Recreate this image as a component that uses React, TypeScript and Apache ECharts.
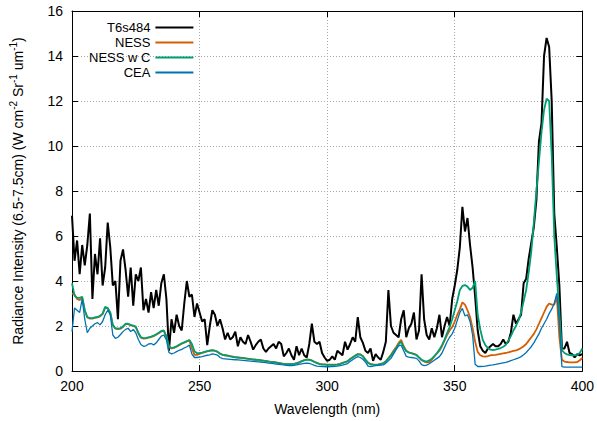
import { useEffect, useRef } from "react";
import * as echarts from "echarts";

// Wavelength sampling (nm): first sample and spacing
const wavelengthStart = 200;
const wavelengthStep = 1;

const xTicks = [200, 250, 300, 350, 400];
const yTicks = [0, 2, 4, 6, 8, 10, 12, 14, 16];

const seriesNames = ["T6s484", "NESS", "NESS w C", "CEA"];

// T6s484 (measured), 200..400 nm
const t6s484 = [
  6.9, 4.9, 5.8, 4.3, 5.6, 4.7, 5.6, 7.0, 3.2, 5.2,
  4.3, 5.9, 3.8, 4.6, 6.6, 5.5, 3.8, 4.0, 2.3, 4.9,
  5.4, 4.5, 3.3, 4.6, 2.9, 4.3, 4.0, 4.6, 2.7, 3.2,
  2.6, 3.5, 2.8, 3.6, 2.9, 3.9, 4.3, 3.2, 0.9, 2.3,
  1.7, 2.5, 2.0, 1.8, 3.0, 4.0, 3.3, 3.4, 2.4, 3.0,
  2.6, 2.2, 2.3, 1.15, 2.0, 2.7, 2.5, 2.0, 2.3, 1.9,
  1.4, 1.7, 1.4, 1.5, 1.75, 1.1, 1.5, 1.3, 1.2, 1.6,
  1.3, 0.95, 1.15, 1.3, 1.4, 1.0, 0.85, 1.0, 1.1, 1.2,
  1.0, 1.3, 1.2, 0.65, 0.8, 1.0, 0.7, 0.5, 1.1, 0.7,
  1.0, 0.7, 0.6, 1.2, 2.1, 1.3, 1.2, 1.3, 0.8, 0.6,
  0.45, 0.5, 0.65, 0.5, 0.9, 0.8, 0.7, 1.3, 0.95, 1.2,
  1.5, 1.3, 2.4, 1.5, 1.25, 0.9, 0.8, 1.0, 0.45, 0.75,
  0.6, 0.5, 0.85, 1.3, 3.6, 2.0, 1.7, 1.6, 1.5, 2.3,
  2.7, 1.5, 1.9, 2.1, 2.6, 1.4, 1.8, 4.3, 2.3, 1.6,
  1.4, 1.9, 1.5, 1.9, 2.5, 1.5, 2.0, 2.4, 2.0, 3.2,
  3.8, 4.5, 5.5, 7.3, 6.2, 6.8, 5.6, 4.6, 3.3, 1.8,
  1.1, 0.9, 0.8, 1.0, 1.1, 1.2, 1.1, 1.1, 1.2, 1.4,
  1.2, 1.3, 1.7, 2.5, 2.1, 2.3, 2.5, 3.9, 4.1, 5.0,
  5.7, 6.4, 7.6, 10.2, 11.0, 14.0, 14.8, 14.4, 12.0, 7.0,
  5.5, 3.8, 1.0, 1.0, 1.3, 0.8, 0.75, 0.6, 0.75, 0.7,
  0.75,
];

// NESS, 200..400 nm
const ness = [
  3.45, 3.4, 3.2, 3.15, 3.25, 2.68, 2.38, 2.33, 2.33, 2.36,
  2.38, 2.43, 2.53, 2.82, 2.78, 2.58, 2.03, 1.88, 1.86, 1.88,
  1.96, 2.08, 2.08, 2.03, 2.0, 1.95, 1.68, 1.48, 1.44, 1.45,
  1.48, 1.51, 1.55, 1.61, 1.68, 1.76, 1.78, 1.5, 1.05, 1.0,
  1.03, 1.08, 1.15, 1.21, 1.26, 1.31, 1.36, 1.0, 0.72, 0.72,
  0.76, 0.8, 0.84, 0.87, 0.9, 0.92, 0.9, 0.85, 0.77, 0.72,
  0.7, 0.68, 0.66, 0.64, 0.62, 0.6, 0.59, 0.58, 0.56, 0.55,
  0.53, 0.52, 0.5, 0.49, 0.48, 0.46, 0.45, 0.43, 0.41, 0.4,
  0.38, 0.36, 0.34, 0.32, 0.31, 0.31, 0.31, 0.32, 0.35, 0.39,
  0.44, 0.48, 0.51, 0.51, 0.47, 0.41, 0.36, 0.32, 0.3, 0.29,
  0.28, 0.28, 0.28, 0.28, 0.29, 0.32, 0.36, 0.4, 0.44, 0.53,
  0.61, 0.69, 0.75, 0.74, 0.66, 0.51, 0.37, 0.31, 0.29, 0.28,
  0.29, 0.32, 0.35, 0.44, 0.58, 0.72, 0.9, 1.06, 1.25, 1.38,
  1.1, 0.9, 0.83, 0.8, 0.76, 0.72, 0.6, 0.48, 0.42, 0.38,
  0.4, 0.5, 0.65, 0.78, 0.9, 1.1, 1.35, 1.6, 1.8, 1.95,
  2.2, 2.5, 2.75, 3.05, 2.95, 2.7, 2.4, 1.9, 1.3, 0.85,
  0.7, 0.65, 0.64, 0.66, 0.7, 0.71, 0.72, 0.74, 0.76, 0.78,
  0.8, 0.83, 0.86, 0.89, 0.92, 0.96, 1.02, 1.1, 1.2, 1.35,
  1.5, 1.65, 1.85, 2.1, 2.35, 2.6, 2.85, 3.0, 2.95, 2.95,
  3.3, 1.5, 0.5, 0.42, 0.4, 0.38, 0.38, 0.38, 0.4, 0.48,
  0.58,
];

// NESS w C, 200..400 nm
const nessWithC = [
  3.9, 3.35, 3.25, 3.25, 3.3, 2.7, 2.4, 2.35, 2.35, 2.38,
  2.4, 2.45, 2.55, 2.85, 2.8, 2.6, 2.05, 1.9, 1.88, 1.9,
  1.98, 2.1, 2.1, 2.05, 2.02, 1.97, 1.7, 1.5, 1.46, 1.47,
  1.5, 1.53, 1.57, 1.63, 1.7, 1.78, 1.8, 1.55, 1.1, 1.02,
  1.05, 1.1, 1.17, 1.23, 1.28, 1.33, 1.38, 1.2, 0.88, 0.79,
  0.8, 0.82, 0.85, 0.88, 0.91, 0.93, 0.9, 0.86, 0.77, 0.72,
  0.7, 0.68, 0.65, 0.63, 0.61, 0.6, 0.58, 0.57, 0.56, 0.54,
  0.53, 0.51, 0.5, 0.49, 0.47, 0.46, 0.44, 0.42, 0.41, 0.39,
  0.37, 0.35, 0.33, 0.31, 0.3, 0.3, 0.3, 0.31, 0.34, 0.38,
  0.43, 0.47, 0.5, 0.5, 0.46, 0.4, 0.35, 0.31, 0.29, 0.28,
  0.27, 0.27, 0.27, 0.27, 0.28, 0.31, 0.35, 0.39, 0.43, 0.52,
  0.6, 0.68, 0.74, 0.73, 0.65, 0.5, 0.36, 0.3, 0.28, 0.27,
  0.28, 0.31, 0.34, 0.42, 0.55, 0.68, 0.85, 1.0, 1.18, 1.3,
  1.05, 0.88, 0.82, 0.79, 0.75, 0.71, 0.6, 0.5, 0.45, 0.42,
  0.47, 0.55, 0.66, 0.79, 0.95, 1.15, 1.4, 1.68, 1.95, 2.3,
  2.7, 3.1, 3.6, 3.78, 3.82, 3.75, 3.6, 3.7, 4.0, 2.5,
  1.85, 1.38, 1.15, 1.02, 0.95, 0.93, 0.95, 0.98, 1.02, 1.08,
  1.16, 1.35, 1.55, 1.8, 2.0, 2.25, 2.6, 3.1, 3.6, 4.4,
  5.3, 6.6, 8.0, 9.3, 10.6, 11.6, 12.1, 12.0, 9.6, 6.0,
  4.2, 2.6, 0.93, 0.8, 0.74, 0.71, 0.7, 0.7, 0.72, 0.8,
  1.0,
];

// CEA, 200..400 nm
const cea = [
  1.75, 2.8, 2.7, 2.6, 3.2, 2.3, 1.7, 1.9, 2.0, 2.1,
  2.15, 2.05, 2.2, 2.5, 2.7, 2.5, 1.6, 1.45, 1.5, 1.62,
  1.75, 1.85, 1.9, 1.75, 1.85, 1.7, 1.4, 1.18, 1.1, 1.12,
  1.2, 1.22, 1.16, 1.25, 1.4, 1.55, 1.6, 1.38, 0.82, 0.76,
  0.8, 0.86, 0.92, 0.96, 1.02, 1.08, 1.15, 0.75, 0.6, 0.6,
  0.62, 0.64, 0.67, 0.7, 0.72, 0.76, 0.74, 0.71, 0.6, 0.55,
  0.54, 0.53, 0.52, 0.51, 0.5, 0.49, 0.48, 0.47, 0.46, 0.45,
  0.44, 0.43, 0.42, 0.41, 0.4, 0.38, 0.37, 0.35, 0.34, 0.33,
  0.31, 0.3, 0.28, 0.27, 0.25, 0.24, 0.24, 0.25, 0.27, 0.3,
  0.32, 0.34, 0.35, 0.34, 0.3, 0.25, 0.22, 0.21, 0.2, 0.19,
  0.19, 0.19, 0.2, 0.21, 0.22, 0.24, 0.26, 0.29, 0.33, 0.42,
  0.5, 0.58, 0.64, 0.6, 0.52, 0.4, 0.22, 0.2, 0.22, 0.24,
  0.25, 0.26, 0.27, 0.35, 0.45, 0.56, 0.75, 0.95, 1.12, 1.15,
  0.9, 0.65, 0.62, 0.6, 0.58, 0.56, 0.45, 0.28, 0.24, 0.26,
  0.32, 0.4, 0.48, 0.56, 0.64, 0.8, 1.05, 1.3, 1.5, 1.65,
  1.9, 2.25, 2.6, 2.78, 2.45, 2.5, 2.2, 1.6, 0.3, 0.2,
  0.2, 0.21, 0.22, 0.24, 0.26, 0.27, 0.29, 0.32, 0.34, 0.36,
  0.38, 0.42, 0.46, 0.5, 0.54, 0.58, 0.64, 0.72, 0.82, 0.95,
  1.08, 1.25, 1.45, 1.65, 1.9, 2.1, 2.3, 2.55, 2.75, 3.0,
  3.45, 2.2, 0.19, 0.17, 0.17, 0.17, 0.17, 0.17, 0.17, 0.17,
  0.17,
];

const seriesValues = [t6s484, ness, nessWithC, cea];
const seriesColors = ["#000000", "#d55e00", "#009e73", "#0072b2"];
const seriesWidths = [2, 1.8, 1.8, 1.3];

const FONT = "'Liberation Sans', Arial, Helvetica, sans-serif";

export default function App() {
  const ref = useRef<HTMLDivElement>(null);

  useEffect(() => {
    if (!ref.current) return;
    const chart = echarts.init(ref.current, null, { renderer: "svg" });

    const toPairs = (vals: number[]) =>
      vals.map((v, i) => [wavelengthStart + i * wavelengthStep, v]);

    const axisLine = { show: true, onZero: false, lineStyle: { color: "#000", width: 1 } };
    const axisTick = { show: true, inside: true, length: 6, lineStyle: { color: "#000", width: 1 } };
    const gridLine = { show: true, lineStyle: { color: "#a8a8a8", width: 1, type: [1, 2] } };

    const xMin = xTicks[0];
    const xMax = xTicks[xTicks.length - 1];
    const xInt = xTicks[1] - xTicks[0];
    const yMin = yTicks[0];
    const yMax = yTicks[yTicks.length - 1];
    const yInt = yTicks[1] - yTicks[0];

    chart.setOption({
      animation: false,
      backgroundColor: "#ffffff",
      textStyle: { fontFamily: FONT },
      grid: { left: 69, right: 14, top: 11, bottom: 50, containLabel: false },
      legend: {
        orient: "vertical",
        left: 84,
        top: 16,
        align: "right",
        icon: "rect",
        itemWidth: 38,
        itemHeight: 2,
        itemGap: 2,
        selectedMode: false,
        data: seriesNames,
        textStyle: { fontSize: 13, lineHeight: 13, color: "#000", fontFamily: FONT },
      },
      xAxis: [
        {
          type: "value",
          min: xMin,
          max: xMax,
          interval: xInt,
          axisLine,
          axisTick,
          axisLabel: { color: "#000", fontSize: 14, fontFamily: FONT, margin: 8 },
          splitLine: gridLine,
          name: "Wavelength (nm)",
          nameLocation: "middle",
          nameGap: 31,
          nameTextStyle: { color: "#000", fontSize: 14, fontFamily: FONT },
        },
        {
          type: "value",
          position: "top",
          min: xMin,
          max: xMax,
          interval: xInt,
          axisLine,
          axisTick,
          axisLabel: { show: false },
          splitLine: { show: false },
        },
      ],
      yAxis: [
        {
          type: "value",
          min: yMin,
          max: yMax,
          interval: yInt,
          axisLine,
          axisTick,
          axisLabel: { color: "#000", fontSize: 14, fontFamily: FONT, margin: 9 },
          splitLine: gridLine,
          name: "Radiance Intensity (6.5-7.5cm) (W cm{sup|-2} Sr{sup|-1} um{sup|-1})",
          nameLocation: "middle",
          nameGap: 44,
          nameTextStyle: {
            color: "#000",
            fontSize: 14,
            fontFamily: FONT,
            lineHeight: 20,
            rich: {
              sup: { fontSize: 10, fontFamily: FONT, color: "#000", verticalAlign: "top", lineHeight: 20 },
            },
          },
        },
        {
          type: "value",
          position: "right",
          min: yMin,
          max: yMax,
          interval: yInt,
          axisLine,
          axisTick,
          axisLabel: { show: false },
          splitLine: { show: false },
        },
      ],
      series: seriesNames.map((name, k) => ({
        name,
        type: "line",
        xAxisIndex: 0,
        yAxisIndex: 0,
        data: toPairs(seriesValues[k]),
        symbol: "none",
        showSymbol: false,
        clip: true,
        silent: true,
        color: seriesColors[k],
        lineStyle: { color: seriesColors[k], width: seriesWidths[k] },
        itemStyle: { color: seriesColors[k] },
      })),
    });

    return () => chart.dispose();
  }, []);

  return (
    <div
      ref={ref}
      style={{ position: "absolute", left: 0, top: 0, width: 597, height: 421 }}
    />
  );
}
